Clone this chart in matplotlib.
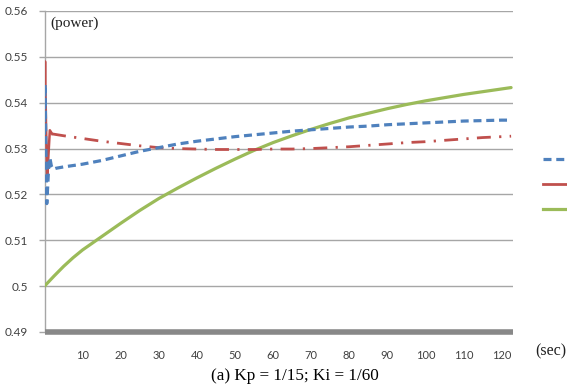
import matplotlib
matplotlib.use("Agg")
import matplotlib.pyplot as plt
from matplotlib.lines import Line2D

# time (sec) and series values
t_blue = [0, 0.15, 0.35, 0.6, 0.85, 1.1, 1.4, 1.8, 2.3, 3, 5, 10, 15, 20, 25, 30, 35, 40, 45, 50,
          55, 60, 65, 70, 75, 80, 85, 90, 95, 100, 105, 110, 115, 120, 122]
v_blue = [0.533, 0.544, 0.531, 0.518, 0.522, 0.526, 0.528, 0.5262, 0.5255, 0.5257, 0.526, 0.5266,
          0.5274, 0.5284, 0.5294, 0.5302, 0.5310, 0.5316, 0.5321, 0.5326, 0.5330, 0.5334, 0.5338,
          0.5341, 0.5344, 0.5347, 0.5349, 0.5352, 0.5354, 0.5356, 0.5358, 0.5360, 0.5361, 0.5362,
          0.5362]

t_red = [0, 0.15, 0.4, 0.7, 1.0, 1.4, 2, 5, 10, 15, 20, 25, 30, 35, 40, 45, 50, 55, 60, 65, 70,
         75, 80, 85, 90, 95, 100, 105, 110, 115, 120, 122.5]
v_red = [0.540, 0.549, 0.535, 0.524, 0.528, 0.534, 0.5332, 0.5328, 0.5322, 0.5316, 0.5311, 0.5306,
         0.5302, 0.5300, 0.5299, 0.5298, 0.5298, 0.5298, 0.5299, 0.5299, 0.5300, 0.5302, 0.5304,
         0.5307, 0.5310, 0.5313, 0.5315, 0.5318, 0.5321, 0.5324, 0.5326, 0.5327]

t_green = [0, 2.5, 5, 7.5, 10, 15, 20, 25, 30, 35, 40, 45, 50, 55, 60, 65, 70, 75, 80, 85, 90,
           95, 100, 105, 110, 115, 120, 122.5]
v_green = [0.5, 0.5022, 0.5043, 0.5062, 0.5079, 0.5108, 0.5137, 0.5165, 0.5191, 0.5214, 0.5236,
           0.5257, 0.5277, 0.5296, 0.5313, 0.5328, 0.5342, 0.5355, 0.5367, 0.5377, 0.5387,
           0.5396, 0.5404, 0.5411, 0.5418, 0.5424, 0.5430, 0.5433]

x_ticks = [10, 20, 30, 40, 50, 60, 70, 80, 90, 100, 110, 120]
y_ticks = [0.49, 0.5, 0.51, 0.52, 0.53, 0.54, 0.55, 0.56]
y_labels = ["0.49", "0.5", "0.51", "0.52", "0.53", "0.54", "0.55", "0.56"]

BLUE = "#4F81BD"
RED = "#C0504D"
GREEN = "#9BBB59"
GRID = "#A6A6A6"
TXT = "#404040"

fig = plt.figure(figsize=(5.67, 3.89), dpi=100)
ax = fig.add_axes([44.5 / 567, 1 - 332 / 389, (513 - 44.5) / 567, (332 - 11) / 389])

n_tr = 7  # number of points in the start-up transient of the red series
ax.plot(t_green, v_green, color=GREEN, lw=2.3, solid_capstyle="round", zorder=3)
ax.plot(t_red[:n_tr], v_red[:n_tr], color=RED, lw=1.8, zorder=4)
ax.plot(t_red[n_tr - 1:], v_red[n_tr - 1:], color=RED, lw=2.0,
        linestyle=(0, (5, 3, 0.8, 3)), zorder=4)
ax.plot(t_blue, v_blue, color=BLUE, lw=2.3, linestyle=(0, (2.5, 1.5)), zorder=5)

ax.set_xlim(0, 123)
ax.set_ylim(0.49, 0.56)
ax.set_yticks(y_ticks)
ax.set_yticklabels(y_labels)
ax.set_xticks(x_ticks)
ax.set_xticklabels([str(x) for x in x_ticks])

ax.yaxis.grid(True, color=GRID, lw=1.0)
ax.set_axisbelow(True)
for s in ["top", "right"]:
    ax.spines[s].set_visible(False)
ax.spines["left"].set_color(GRID)
ax.spines["left"].set_linewidth(1.0)
ax.spines["bottom"].set_color("#888888")
ax.spines["bottom"].set_linewidth(4.0)
ax.spines["bottom"].set_capstyle("butt")
ax.spines["bottom"].set_zorder(6)

ax.tick_params(axis="y", length=4, color=GRID, width=1.0, pad=8,
               labelsize=8.5, labelcolor=TXT)
ax.tick_params(axis="x", length=0, pad=13, labelsize=8, labelcolor=TXT)
for lab in ax.get_xticklabels() + ax.get_yticklabels():
    lab.set_family("Lato")

ax.text(0.012, 0.982, "(power)", transform=ax.transAxes, ha="left", va="top",
        family="Liberation Serif", fontsize=11, color="#202020")
fig.text(535 / 567, 1 - 351 / 389, "(sec)", ha="left", va="center",
         family="Liberation Serif", fontsize=11.5, color="#202020")
fig.text(295 / 567, 1 - 376 / 389, "(a) Kp = 1/15; Ki = 1/60", ha="center", va="center",
         family="Liberation Serif", fontsize=12.3, color="#000000")

handles = [Line2D([], [], color=BLUE, lw=2.3, linestyle=(0, (2.5, 1.5))),
           Line2D([], [], color=RED, lw=2.0),
           Line2D([], [], color=GREEN, lw=2.3)]
fig.legend(handles, ["", "", ""], loc="center left", bbox_to_anchor=(543 / 567, 1 - 185 / 389),
           frameon=False, handlelength=2.2, labelspacing=0.8, handletextpad=0,
           borderaxespad=0, borderpad=0)

fig.savefig("out.png", dpi=100)
